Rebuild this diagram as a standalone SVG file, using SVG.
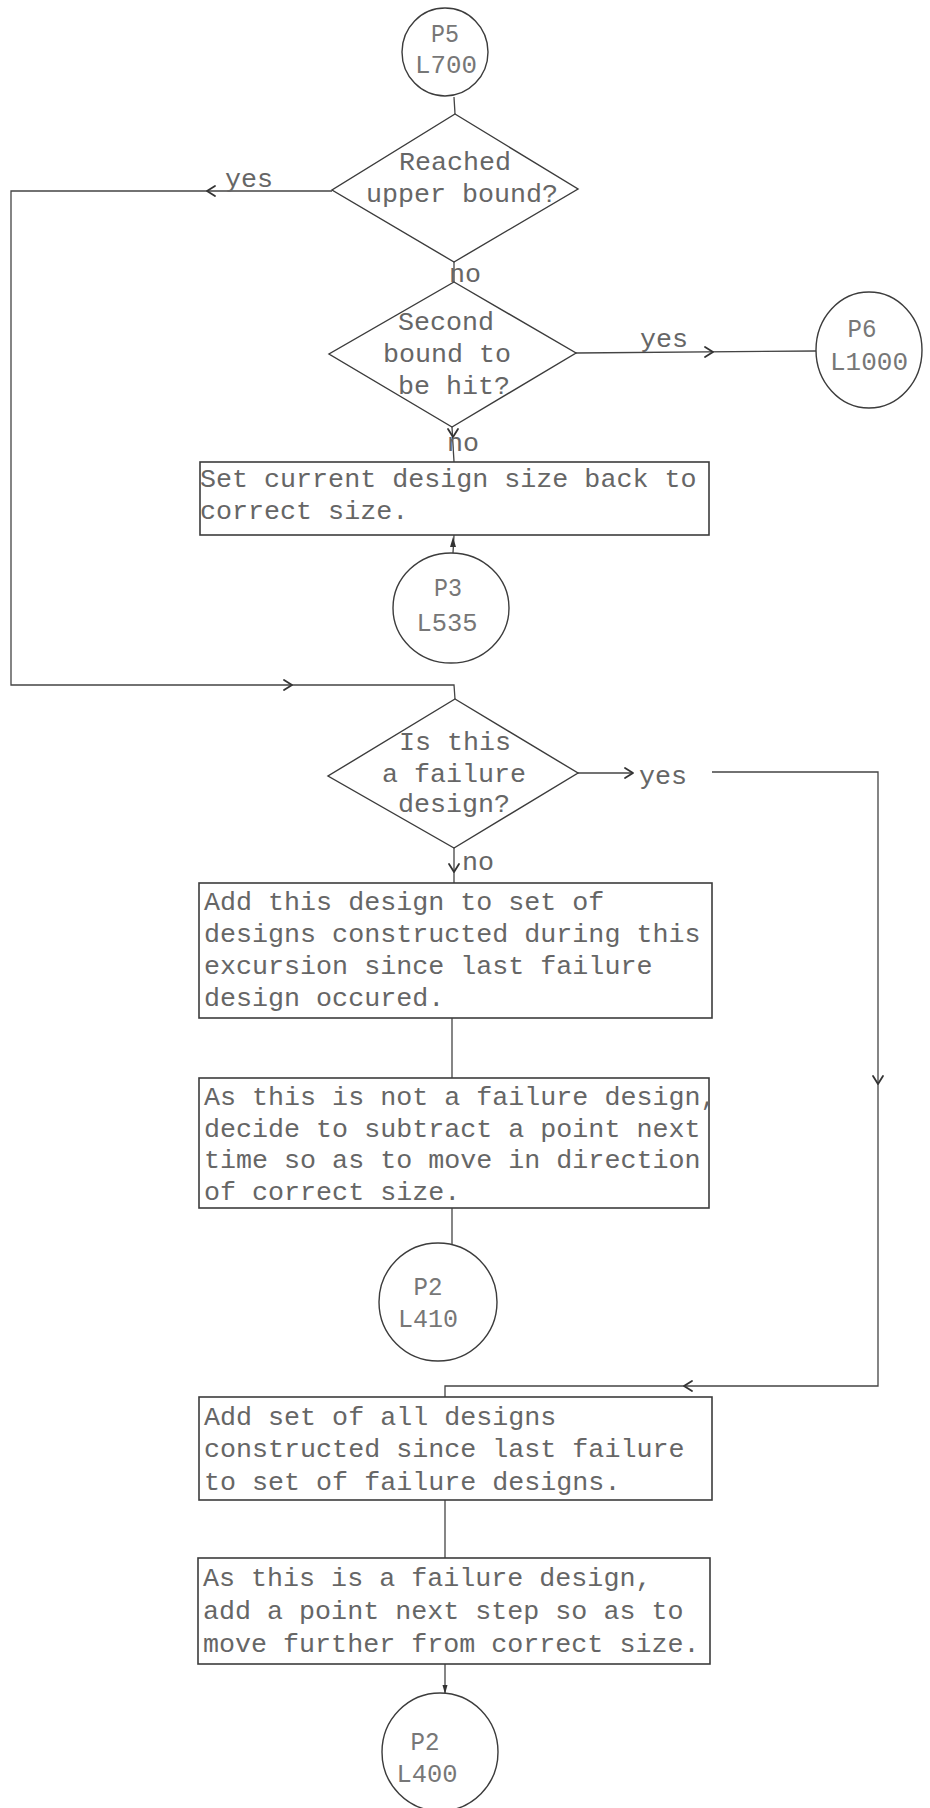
<svg xmlns="http://www.w3.org/2000/svg" width="930" height="1808" viewBox="0 0 930 1808">
  <style>
    .shape { fill: none; stroke: #3c3c3c; stroke-width: 1.4; }
    .box { fill: none; stroke: #3c3c3c; stroke-width: 1.6; }
    .wire { fill: none; stroke: #444; stroke-width: 1.3; }
    .chev { fill: none; stroke: #333; stroke-width: 1.8; stroke-linecap: round; stroke-linejoin: round; }
    .tip { fill: #333; stroke: none; }
    text { font-family: "Liberation Mono", "DejaVu Sans Mono", monospace; fill: #666; }
    .t { font-size: 26.7px; }
    .c { font-size: 26px; text-anchor: middle; fill: #777; }
    .m { text-anchor: middle; }
  </style>
  <defs>
    <!-- open chevron arrowhead, pointing along +x -->
    <path id="chev" class="chev" d="M-8,-5 L0,0 L-8,5"/>
    <!-- small solid arrowhead, pointing along +y -->
    <path id="tip" class="tip" d="M-2.5,-9 L2.5,-9 L0,0 Z"/>
  </defs>
  <rect width="930" height="1808" fill="#ffffff"/>

  <g id="connectors">
    <!-- P5 to first decision -->
    <path class="wire" d="M454,97 L455,114"/>
    <!-- upper bound: yes loops round the left side -->
    <path class="wire" d="M332,191 L11,191 L11,685 L454,685 L455,699"/>
    <use href="#chev" transform="translate(207,191) rotate(180)"/>
    <use href="#chev" transform="translate(292,685)"/>
    <!-- upper bound: no -->
    <path class="wire" d="M454,262 L454,282"/>
    <!-- second bound: yes to P6 -->
    <path class="wire" d="M576,353 L816,351"/>
    <use href="#chev" transform="translate(713,352)"/>
    <!-- second bound: no -->
    <path class="wire" d="M452,427 L454,462"/>
    <use href="#chev" transform="translate(453,437) rotate(90)"/>
    <!-- reset box to P3 -->
    <path class="wire" d="M454,535 L453,553"/>
    <path class="tip" d="M453,537 L456,547 L450,547 Z"/>
    <!-- failure decision: yes runs round the right side -->
    <path class="wire" d="M578,773 L632,773"/>
    <use href="#chev" transform="translate(633,773)"/>
    <path class="wire" d="M712,772 L878,772 L878,1386 L445,1386 L445,1397"/>
    <use href="#chev" transform="translate(878,1084) rotate(90)"/>
    <use href="#chev" transform="translate(684,1386) rotate(180)"/>
    <!-- failure decision: no -->
    <path class="wire" d="M454,848 L454,883"/>
    <use href="#chev" transform="translate(454,872) rotate(90)"/>
    <!-- non-failure chain -->
    <path class="wire" d="M452,1018 L452,1078"/>
    <path class="wire" d="M452,1208 L452,1244"/>
    <!-- failure chain -->
    <path class="wire" d="M445,1500 L445,1558"/>
    <path class="wire" d="M445,1664 L445,1693"/>
    <use href="#tip" transform="translate(445,1694)"/>

    <!-- branch labels -->
    <text class="t" x="225" y="187">yes</text>
    <text class="t" x="449" y="282">no</text>
    <text class="t" x="640" y="347">yes</text>
    <text class="t" x="447" y="451">no</text>
    <text class="t" x="639" y="784">yes</text>
    <text class="t" x="462" y="870">no</text>
  </g>

  <g id="p5-l700">
    <ellipse class="shape" cx="445" cy="52" rx="43" ry="44"/>
    <text class="c" x="445" y="42" textLength="28" lengthAdjust="spacingAndGlyphs">P5</text>
    <text class="c" x="446" y="73" textLength="62" lengthAdjust="spacingAndGlyphs">L700</text>
  </g>

  <g id="reached-upper-bound">
    <polygon class="shape" points="455,114 578,189 454,262 332,190"/>
    <text class="t m" x="455" y="170">Reached</text>
    <text class="t m" x="462" y="202">upper bound?</text>
  </g>

  <g id="second-bound">
    <polygon class="shape" points="454,282 576,353 452,427 329,354"/>
    <text class="t m" x="446" y="330">Second</text>
    <text class="t m" x="447" y="362">bound to</text>
    <text class="t m" x="454" y="394">be hit?</text>
  </g>

  <g id="p6-l1000">
    <ellipse class="shape" cx="869" cy="350" rx="53" ry="58"/>
    <text class="c" x="862" y="337" textLength="29" lengthAdjust="spacingAndGlyphs">P6</text>
    <text class="c" x="869" y="370" textLength="78" lengthAdjust="spacingAndGlyphs">L1000</text>
  </g>

  <g id="reset-size">
    <rect class="box" x="200" y="462" width="509" height="73"/>
    <text class="t" x="200" y="487">Set current design size back to</text>
    <text class="t" x="200" y="519">correct size.</text>
  </g>

  <g id="p3-l535">
    <ellipse class="shape" cx="451" cy="608" rx="58" ry="55"/>
    <text class="c" x="448" y="596" font-size="30" textLength="28" lengthAdjust="spacingAndGlyphs">P3</text>
    <text class="c" x="447" y="631" font-size="30" textLength="61" lengthAdjust="spacingAndGlyphs">L535</text>
  </g>

  <g id="failure-design">
    <polygon class="shape" points="455,699 578,773 454,848 328,776"/>
    <text class="t m" x="455" y="750">Is this</text>
    <text class="t m" x="454" y="782">a failure</text>
    <text class="t m" x="454" y="812">design?</text>
  </g>

  <g id="add-to-excursion">
    <rect class="box" x="199" y="883" width="513" height="135"/>
    <text class="t" x="204" y="910">Add this design to set of</text>
    <text class="t" x="204" y="942">designs constructed during this</text>
    <text class="t" x="204" y="974">excursion since last failure</text>
    <text class="t" x="204" y="1006">design occured.</text>
  </g>

  <g id="subtract-point">
    <rect class="box" x="199" y="1078" width="510" height="130"/>
    <text class="t" x="204" y="1105">As this is not a failure design,</text>
    <text class="t" x="204" y="1137">decide to subtract a point next</text>
    <text class="t" x="204" y="1168">time so as to move in direction</text>
    <text class="t" x="204" y="1200">of correct size.</text>
  </g>

  <g id="p2-l410">
    <ellipse class="shape" cx="438" cy="1302" rx="59" ry="59"/>
    <text class="c" x="428" y="1295" textLength="29" lengthAdjust="spacingAndGlyphs">P2</text>
    <text class="c" x="428" y="1327" textLength="60" lengthAdjust="spacingAndGlyphs">L410</text>
  </g>

  <g id="add-to-failures">
    <rect class="box" x="199" y="1397" width="513" height="103"/>
    <text class="t" x="204" y="1425">Add set of all designs</text>
    <text class="t" x="204" y="1457">constructed since last failure</text>
    <text class="t" x="204" y="1490">to set of failure designs.</text>
  </g>

  <g id="add-point">
    <rect class="box" x="198" y="1558" width="512" height="106"/>
    <text class="t" x="203" y="1586">As this is a failure design,</text>
    <text class="t" x="203" y="1619">add a point next step so as to</text>
    <text class="t" x="203" y="1652">move further from correct size.</text>
  </g>

  <g id="p2-l400">
    <ellipse class="shape" cx="440" cy="1752" rx="58" ry="59"/>
    <text class="c" x="425" y="1750" textLength="29" lengthAdjust="spacingAndGlyphs">P2</text>
    <text class="c" x="427" y="1782" fill="#999" textLength="61" lengthAdjust="spacingAndGlyphs">L400</text>
  </g>
</svg>
